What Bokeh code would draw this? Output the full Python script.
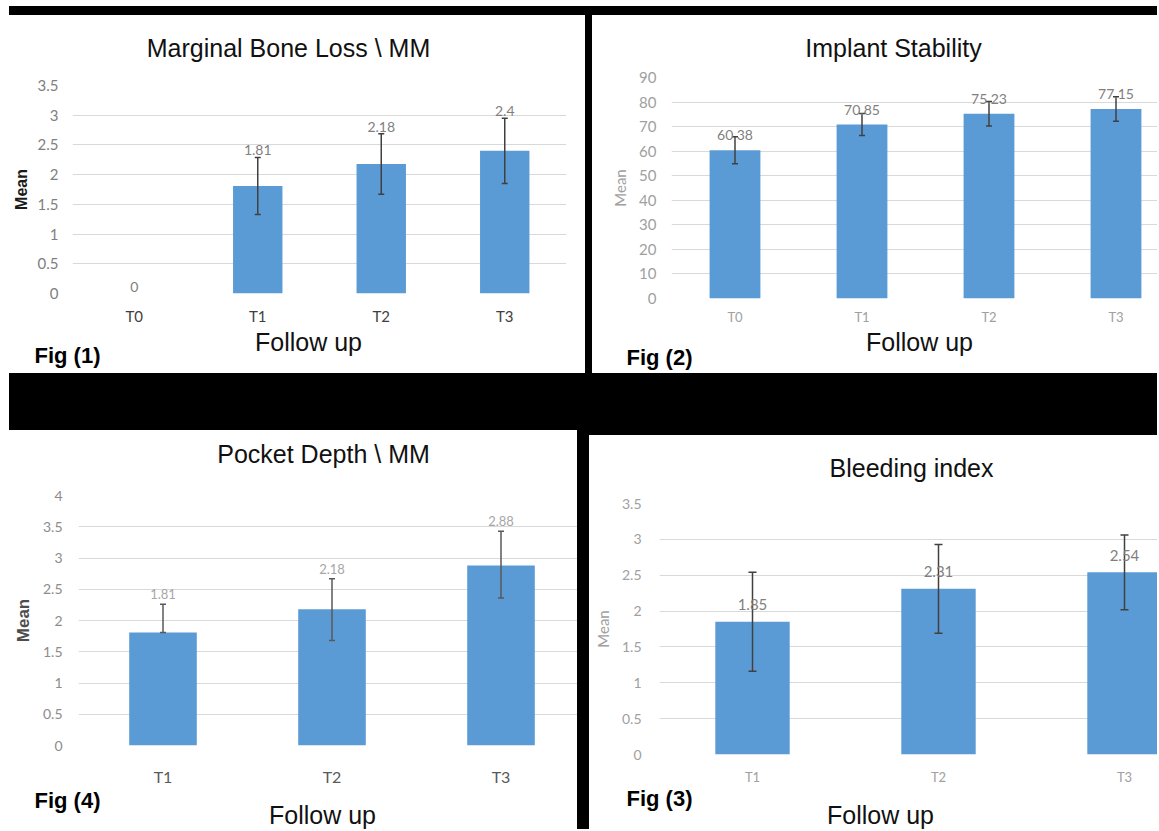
from bokeh.plotting import figure
from bokeh.models import (ColumnDataSource, Range1d, FixedTicker, Whisker, TeeHead,
                          LabelSet, NumeralTickFormatter)
from bokeh.layouts import row, column
from bokeh.core.properties import value
from bokeh.embed import file_html
from bokeh.resources import INLINE

# ---------------- data ----------------
mbl_cats = ["T0", "T1", "T2", "T3"]
mbl_mean = [0, 1.81, 2.18, 2.4]
mbl_err_lo = [0, 0.48, 0.51, 0.55]
mbl_err_hi = [0, 0.48, 0.51, 0.55]

is_cats = ["T0", "T1", "T2", "T3"]
is_mean = [60.38, 70.85, 75.23, 77.15]
is_err_lo = [5.5, 4.5, 5.0, 5.0]
is_err_hi = [5.5, 4.5, 5.0, 5.0]

pd_cats = ["T1", "T2", "T3"]
pd_mean = [1.81, 2.18, 2.88]
pd_err_lo = [0, 0.50, 0.52]
pd_err_hi = [0.45, 0.49, 0.55]

bi_cats = ["T1", "T2", "T3"]
bi_mean = [1.85, 2.31, 2.54]
bi_err_lo = [0.69, 0.62, 0.52]
bi_err_hi = [0.69, 0.62, 0.52]

BLUE = "#5b9bd5"
GRID = "#d9d9d9"
TFONT = "Liberation Sans"
SFONT = "Lato"


def no_align(p):
    if "frame_align" in p.properties():
        p.frame_align = False


def text_strip(W, h, items):
    """A plain white strip (figure whose data space equals its pixels) holding texts."""
    p = figure(width=W, height=h, x_range=Range1d(0, W), y_range=Range1d(h, 0),
               min_border_left=0, min_border_right=0, min_border_top=0, min_border_bottom=0,
               x_axis_type=None, y_axis_type=None,
               output_backend="svg", toolbar_location=None, tools="")
    no_align(p)
    p.outline_line_color = None
    p.background_fill_color = "white"
    p.border_fill_color = "white"
    for (txt, x, y, align, size, style, color) in items:
        p.text(x=[x], y=[y], text=[txt], text_align=value(align), text_baseline=value("middle"),
               text_font=value(TFONT), text_font_size=value(size),
               text_font_style=value(style), text_color=color)
    return p


def chart(cats, means, lo, hi, geo, st):
    W, H, L, R, T, B = geo["W"], geo["ch"], geo["L"], geo["R"], geo["T"], geo["B"]
    fw = W - L - R
    n = len(cats)
    xs = list(range(n))
    x_end = -0.5 + fw / geo["cat_px"]
    p = figure(width=W, height=H, x_range=Range1d(-0.5, x_end),
               y_range=Range1d(0, geo["ymax"]),
               min_border_left=L, min_border_right=R, min_border_top=T, min_border_bottom=B,
               output_backend="svg", toolbar_location=None, tools="")
    no_align(p)
    p.background_fill_color = "white"
    p.border_fill_color = "white"
    p.outline_line_color = None

    p.xgrid.visible = False
    p.ygrid.grid_line_color = GRID
    p.ygrid.grid_line_width = 1

    step = geo["ystep"]
    k = int(round(geo["ymax"] / step))
    yt = []
    for i in range(k + 1):
        v = i * step
        yt.append(int(round(v)) if abs(v - round(v)) < 1e-9 else round(v, 3))

    for ax in (p.xaxis, p.yaxis):
        ax.axis_line_color = None
        ax.major_tick_line_color = None
        ax.minor_tick_line_color = None
        ax.major_tick_out = 0
        ax.major_tick_in = 0
        ax.major_label_text_font = SFONT

    p.yaxis.ticker = FixedTicker(ticks=yt)
    p.yaxis.formatter = NumeralTickFormatter(format="0.[0]")
    p.yaxis.major_label_standoff = st["ystand"]
    p.yaxis.major_label_text_color = st["ytick_color"]
    p.yaxis.major_label_text_font_size = st["ytick_size"]
    p.yaxis.axis_label = "Mean"
    p.yaxis.axis_label_text_font = st["mean_font"]
    p.yaxis.axis_label_text_font_style = st["mean_style"]
    p.yaxis.axis_label_text_font_size = st["mean_size"]
    p.yaxis.axis_label_text_color = st["mean_color"]
    p.yaxis.axis_label_standoff = st["mean_stand"]

    p.xaxis.ticker = FixedTicker(ticks=xs)
    p.xaxis.major_label_overrides = {i: c for i, c in enumerate(cats)}
    p.xaxis.major_label_standoff = st["xstand"]
    p.xaxis.major_label_text_color = st["xtick_color"]
    p.xaxis.major_label_text_font_size = st["xtick_size"]

    src = ColumnDataSource(dict(x=xs, top=means))
    p.vbar(x="x", top="top", width=0.4, bottom=0, source=src,
           fill_color=BLUE, line_color=None)

    wx, wl, wu = [], [], []
    for i in range(n):
        if lo[i] > 0 or hi[i] > 0:
            wx.append(xs[i])
            wl.append(means[i] - lo[i])
            wu.append(means[i] + hi[i])
    wsrc = ColumnDataSource(dict(x=wx, lower=wl, upper=wu))
    ec = st["err_color"]
    wh = Whisker(base="x", lower="lower", upper="upper", source=wsrc, dimension="height",
                 line_color=ec, line_width=1.5, level="overlay",
                 upper_head=TeeHead(size=st["cap"], line_color=ec, line_width=1.5),
                 lower_head=TeeHead(size=st["cap"], line_color=ec, line_width=1.5))
    p.add_layout(wh)

    if st["label_anchor"] == "err":
        ly = [means[i] + hi[i] for i in range(n)]
    else:
        ly = list(means)
    lsrc = ColumnDataSource(dict(x=xs, y=ly, t=[f"{v:g}" for v in means]))
    ls = LabelSet(x="x", y="y", text="t", source=lsrc, y_offset=st["label_off"],
                  text_align="center", text_baseline="middle",
                  text_font=value(SFONT), text_font_size=value(st["label_size"]),
                  text_color=st["label_color"], level="overlay")
    p.add_layout(ls)
    return p


WHITE = {"background-color": "white"}
BLACK = {"background-color": "black"}


def panel(cats, means, lo, hi, title, fig_text, geo, st):
    W = geo["W"]
    head = text_strip(W, geo["hh"], [(title, geo["title_x"], geo["title_y"], "center",
                                      "25px", "normal", "#111111")])
    body = chart(cats, means, lo, hi, geo, st)
    foot = text_strip(W, geo["fh"], [
        ("Follow up", geo["fu_x"], geo["fu_y"], "center", "25px", "normal", "#111111"),
        (fig_text, geo["fig_x"], geo["fig_y"], "left", "22px", "bold", "#000000"),
    ])
    return column(head, body, foot, spacing=0, styles=WHITE)


# geometry: hh = title strip height, ch = chart height, fh = footer height
g1 = dict(W=576, hh=55, ch=257, fh=46, L=63, R=19, T=15, B=34, cat_px=123.5, ymax=3.5, ystep=0.5,
          title_x=279, title_y=32, fu_x=299, fu_y=14, fig_x=25, fig_y=28)
s1 = dict(ystand=14, ytick_color="#7f7f7f", ytick_size="15px",
          xstand=13, xtick_color="#404040", xtick_size="15px",
          mean_font=TFONT, mean_style="bold", mean_size="16px", mean_color="#1a1a1a", mean_stand=5,
          err_color="#404040", cap=6, label_anchor="err", label_off=7,
          label_size="14px", label_color="#7f7f7f")

g2 = dict(W=565, hh=50, ch=262, fh=46, L=79, R=0, T=12, B=28, cat_px=127, ymax=90, ystep=10,
          title_x=301, title_y=32, fu_x=327, fu_y=14, fig_x=34, fig_y=30)
s2 = dict(ystand=15, ytick_color="#a0a0a0", ytick_size="15px",
          xstand=10, xtick_color="#a0a0a0", xtick_size="13px",
          mean_font=SFONT, mean_style="normal", mean_size="15px", mean_color="#a0a0a0", mean_stand=7,
          err_color="#404040", cap=6, label_anchor="bar", label_off=15,
          label_size="14px", label_color="#7f7f7f")

g3 = dict(W=568, hh=48, ch=310, fh=41, L=69, R=0, T=17, B=37, cat_px=169, ymax=4, ystep=0.5,
          title_x=314, title_y=23, fu_x=313, fu_y=26, fig_x=25, fig_y=12)
s3 = dict(ystand=16, ytick_color="#8c8c8c", ytick_size="14px",
          xstand=21, xtick_color="#595959", xtick_size="16px",
          mean_font=TFONT, mean_style="bold", mean_size="17px", mean_color="#4d4d4d", mean_stand=7,
          err_color="#595959", cap=6, label_anchor="err", label_off=10,
          label_size="13px", label_color="#a6a6a6")

g4 = dict(W=568, hh=52, ch=300, fh=42, L=70, R=0, T=16, B=32, cat_px=186, ymax=3.5, ystep=0.5,
          title_x=322, title_y=32, fu_x=291, fu_y=27, fig_x=37, fig_y=11)
s4 = dict(ystand=18, ytick_color="#a0a0a0", ytick_size="14px",
          xstand=14, xtick_color="#a0a0a0", xtick_size="13px",
          mean_font=SFONT, mean_style="normal", mean_size="15px", mean_color="#a0a0a0", mean_stand=7,
          err_color="#404040", cap=8, label_anchor="bar", label_off=17,
          label_size="15px", label_color="#7f7f7f")

c1 = panel(mbl_cats, mbl_mean, mbl_err_lo, mbl_err_hi, "Marginal Bone Loss \\ MM", "Fig (1)", g1, s1)
c2 = panel(is_cats, is_mean, is_err_lo, is_err_hi, "Implant Stability", "Fig (2)", g2, s2)
c3 = panel(pd_cats, pd_mean, pd_err_lo, pd_err_hi, "Pocket Depth \\ MM", "Fig (4)", g3, s3)
c4 = panel(bi_cats, bi_mean, bi_err_lo, bi_err_hi, "Bleeding index", "Fig (3)", g4, s4)
c4.margin = (5, 0, 0, 0)

top_row = row(c1, c2, spacing=7, margin=(9, 0, 0, 0), styles=BLACK)
bot_row = row(c3, c4, spacing=12, margin=(57, 0, 0, 0), styles=BLACK)
root = column(top_row, bot_row, spacing=0, margin=(6, 0, 0, 9), styles=BLACK)

open("out.html", "w").write(file_html(root, INLINE))
